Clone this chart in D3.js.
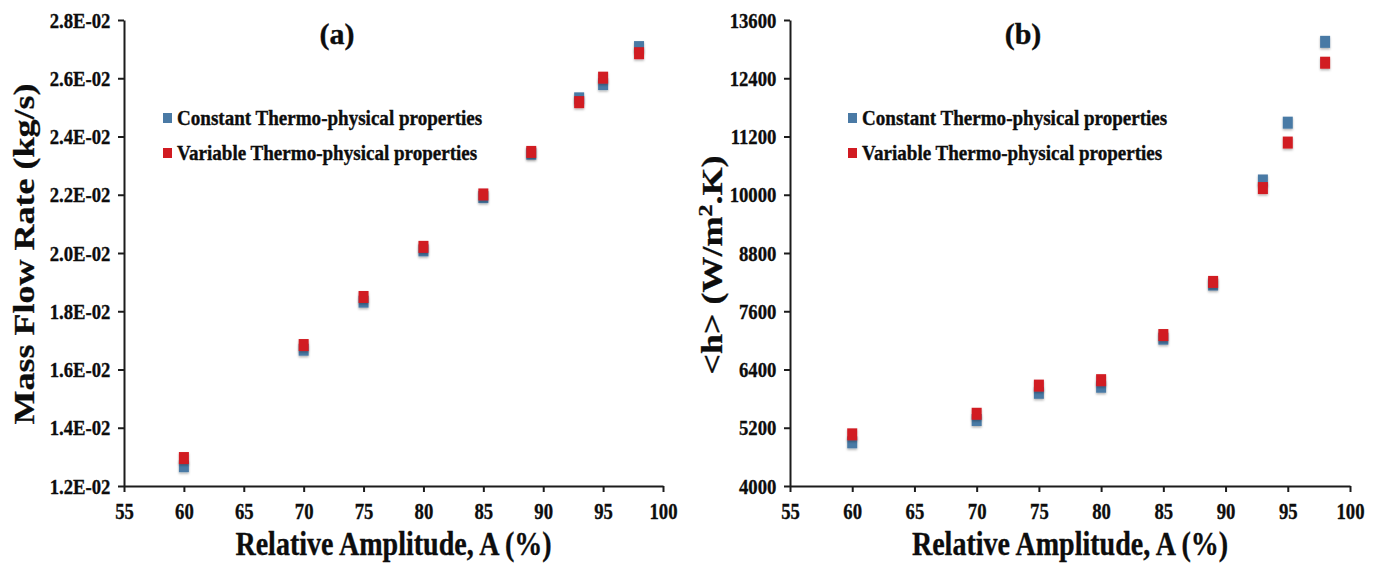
<!DOCTYPE html>
<html>
<head>
<meta charset="utf-8">
<script src="https://cdn.jsdelivr.net/npm/d3@7/dist/d3.min.js"></script>
<style>
  body { margin: 0; background: #fff; }
  svg { display: block; }
  .axis path, .axis line { stroke: #1c1c1c; stroke-width: 2px; }
  text { font-family: 'Liberation Serif', 'Times New Roman', serif; font-weight: bold; fill: #0d0d0d; stroke: #0d0d0d; stroke-width: 0.35px; }
</style>
</head>
<body>
<svg id="chart" width="1376" height="566"></svg>
<script>
// amplitude values (x) shared by both panels
const amplitude = [60, 70, 75, 80, 85, 89, 93, 95, 98];
const amplitudeTicks = [55, 60, 65, 70, 75, 80, 85, 90, 95, 100];

// (a) mass flow rate, kg/s
const massFlowConstant = [0.01268, 0.01668, 0.01833, 0.02009, 0.02192, 0.02341, 0.02531, 0.02580, 0.02707];
const massFlowVariable = [0.01296, 0.01684, 0.01849, 0.02021, 0.02201, 0.02347, 0.02518, 0.02602, 0.02686];
const massFlowTicks = [0.012, 0.014, 0.016, 0.018, 0.020, 0.022, 0.024, 0.026, 0.028];

// (b) mean heat transfer coefficient, W/m2.K
const hConstant = [4900, 5360, 5920, 6045, 7035, 8150, 10294, 11485, 13150];
const hVariable = [5064, 5488, 6068, 6180, 7110, 8204, 10138, 11075, 12720];
const hTicks = [4000, 5200, 6400, 7600, 8800, 10000, 11200, 12400, 13600];

const seriesNames = ['Constant Thermo-physical properties', 'Variable Thermo-physical properties'];
const colors = ['#4a7aa5', '#d11b22'];

class ScatterPanel {
  constructor(svg, opts) {
    this.svg = svg;
    this.opts = opts;
    this.g = svg.append('g');
    this.plotTop = 20;
    this.plotBottom = 486;

    this.scaleX = d3.scaleLinear()
      .domain([55, 100])
      .range([opts.left, opts.right]);
    this.scaleY = d3.scaleLinear()
      .domain(opts.yDomain)
      .range([this.plotBottom, this.plotTop]);

    this.drawAxis();
    this.renderPoints();
    this.drawLegend();
  }

  drawAxis() {
    const o = this.opts;

    const yAxis = this.g.append('g')
      .attr('class', 'axis')
      .attr('transform', `translate(${o.left}, 0)`)
      .call(d3.axisLeft(this.scaleY)
        .tickValues(o.yTicks)
        .tickFormat(o.yFormat)
        .tickSize(6)
        .tickSizeOuter(0)
        .tickPadding(10));
    yAxis.selectAll('text')
      .style('font-size', '22px')
      .attr('transform', 'scale(0.85,1)');

    const xAxis = this.g.append('g')
      .attr('class', 'axis')
      .attr('transform', `translate(0, ${this.plotBottom})`)
      .call(d3.axisBottom(this.scaleX)
        .tickValues(amplitudeTicks)
        .tickSize(6)
        .tickSizeOuter(0)
        .tickPadding(10));
    xAxis.selectAll('text')
      .style('font-size', '24px')
      .attr('transform', 'scale(0.78,1)');

    this.g.selectAll('.axis .domain')
      .attr('fill', 'none');

    // x title
    this.g.append('text')
      .attr('text-anchor', 'middle')
      .attr('transform', `translate(${(o.left + o.right) / 2}, 555) scale(0.85,1)`)
      .style('font-size', '33px')
      .text('Relative Amplitude, A (%)');

    // y title (rotated)
    const yTitle = this.g.append('text')
      .attr('text-anchor', 'middle')
      .attr('transform', `translate(${o.yTitleX}, ${o.yTitleY}) scale(0.8,1) rotate(-90)`)
      .style('font-size', '36px');
    o.yTitle(yTitle);

    // panel label
    this.g.append('text')
      .attr('text-anchor', 'middle')
      .attr('x', o.labelX)
      .attr('y', 44)
      .style('font-size', '30px')
      .text(o.label);
  }

  renderPoints() {
    const o = this.opts;
    [o.constant, o.variable].forEach((values, i) => {
      this.g.append('g')
        .selectAll('rect')
        .data(values.map((v, j) => ({ x: amplitude[j], y: v })))
        .enter().append('rect')
        .attr('x', d => this.scaleX(d.x) - 5)
        .attr('y', d => this.scaleY(d.y) - 6)
        .attr('width', 10)
        .attr('height', 12)
        .attr('fill', colors[i])
        .attr('filter', 'url(#shadow)');
    });
  }

  drawLegend() {
    const o = this.opts;
    const rows = this.g.append('g')
      .selectAll('g')
      .data(seriesNames)
      .enter().append('g')
      .attr('transform', (d, i) => `translate(${o.legendX}, ${118 + i * 35})`);

    rows.append('rect')
      .attr('x', -5)
      .attr('y', -5)
      .attr('width', 9)
      .attr('height', 10)
      .attr('fill', (d, i) => colors[i]);

    rows.append('text')
      .attr('transform', 'translate(9, 7) scale(0.93,1)')
      .style('font-size', '20.5px')
      .text(d => d);
  }
}

const svg = d3.select('#chart');

const defs = svg.append('defs');
defs.append('filter')
  .attr('id', 'shadow')
  .attr('x', '-50%').attr('y', '-50%')
  .attr('width', '200%').attr('height', '200%')
  .append('feDropShadow')
  .attr('dx', 0)
  .attr('dy', 1.5)
  .attr('stdDeviation', 1)
  .attr('flood-color', '#000')
  .attr('flood-opacity', 0.3);

new ScatterPanel(svg, {
  left: 124,
  right: 663,
  yDomain: [0.012, 0.028],
  yTicks: massFlowTicks,
  yFormat: d => `${(d * 100).toFixed(1)}E-02`,
  constant: massFlowConstant,
  variable: massFlowVariable,
  label: '(a)',
  labelX: 337,
  legendX: 168,
  yTitleX: 34,
  yTitleY: 254,
  yTitle: t => t.text('Mass Flow Rate (kg/s)'),
});

new ScatterPanel(svg, {
  left: 790,
  right: 1350,
  yDomain: [4000, 13600],
  yTicks: hTicks,
  yFormat: d3.format('d'),
  constant: hConstant,
  variable: hVariable,
  label: '(b)',
  labelX: 1023,
  legendX: 853,
  yTitleX: 722,
  yTitleY: 265,
  yTitle: (t) => {
    t.append('tspan').text('<h> (W/m');
    t.append('tspan').attr('dy', -13).style('font-size', '24px').text('2');
    t.append('tspan').attr('dy', 13).text('.K)');
  },
});
</script>
</body>
</html>
